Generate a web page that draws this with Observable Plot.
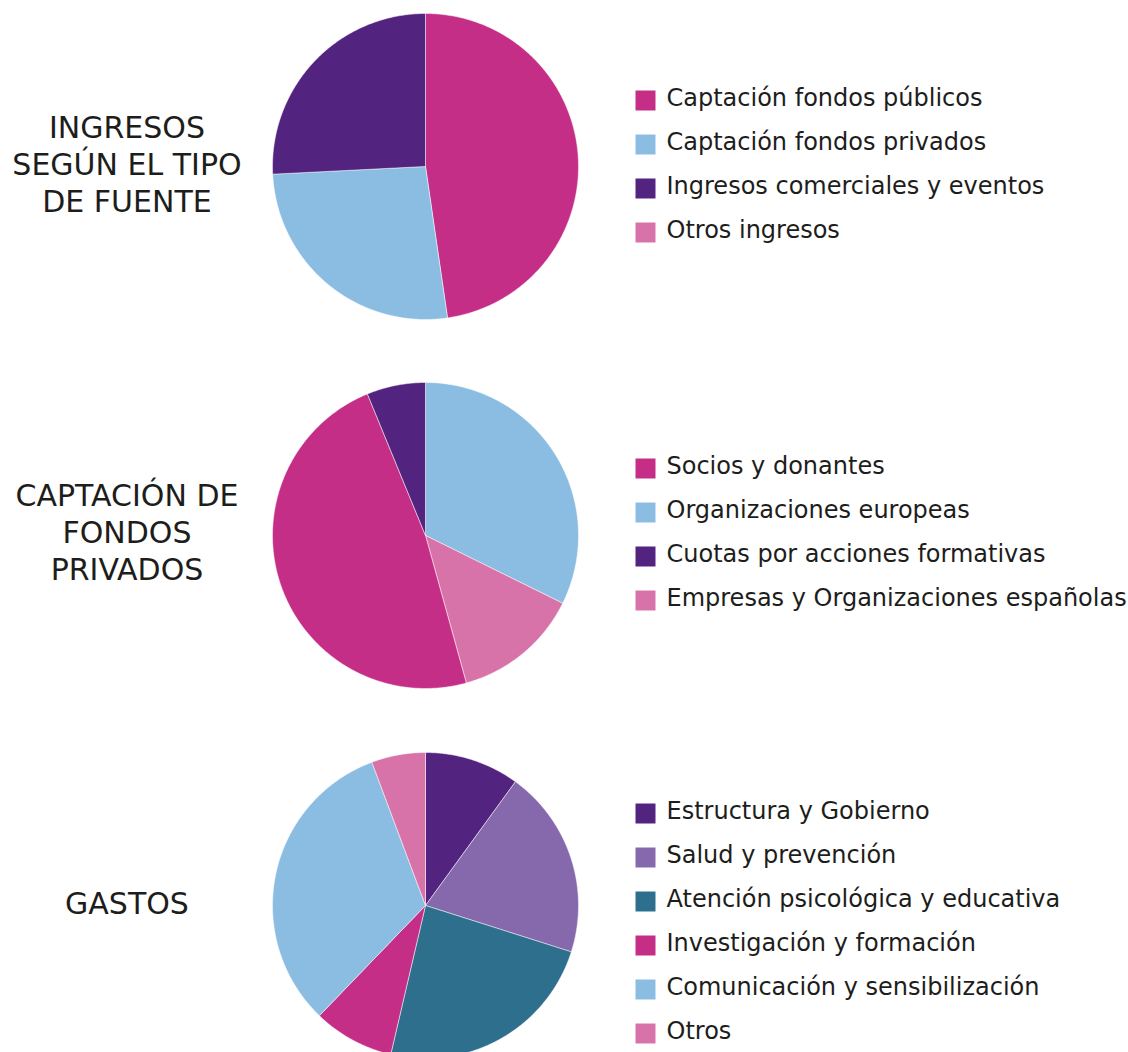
<!DOCTYPE html>
<html><head><meta charset="utf-8">
<script src="https://cdn.jsdelivr.net/npm/d3@7"></script>
<script src="https://cdn.jsdelivr.net/npm/@observablehq/plot@0.6"></script>
<style>
html,body{margin:0;padding:0;background:#fff;}
#page{position:relative;width:1128px;height:1052px;overflow:hidden;font-family:"DejaVu Sans",sans-serif;color:#1d1d1b;}
.title{position:absolute;left:0;width:254px;text-align:center;font-size:30px;line-height:37px;}
.pie,.legend{position:absolute;line-height:0;}
</style></head><body><div id="page"></div>
<script>
// ---- data ----
const ingresosTitle = ["INGRESOS", "SEGÚN EL TIPO", "DE FUENTE"];
const ingresosLabels = ["Captación fondos públicos", "Captación fondos privados", "Ingresos comerciales y eventos", "Otros ingresos"];
const ingresosValues = [47.7, 26.5, 25.8, 0];
const ingresosColors = ["#C42E87", "#8BBCE2", "#52247F", "#D873A9"];
const ingresosOrder = ["Captación fondos públicos", "Captación fondos privados", "Ingresos comerciales y eventos", "Otros ingresos"];

const privadosTitle = ["CAPTACIÓN DE", "FONDOS", "PRIVADOS"];
const privadosLabels = ["Socios y donantes", "Organizaciones europeas", "Cuotas por acciones formativas", "Empresas y Organizaciones españolas"];
const privadosValues = [48.1, 32.3, 6.2, 13.4];
const privadosColors = ["#C42E87", "#8BBCE2", "#52247F", "#D873A9"];
const privadosOrder = ["Organizaciones europeas", "Empresas y Organizaciones españolas", "Socios y donantes", "Cuotas por acciones formativas"];

const gastosTitle = ["GASTOS"];
const gastosLabels = ["Estructura y Gobierno", "Salud y prevención", "Atención psicológica y educativa", "Investigación y formación", "Comunicación y sensibilización", "Otros"];
const gastosValues = [10.0, 19.9, 23.75, 8.55, 32.1, 5.7];
const gastosColors = ["#52247F", "#8569AC", "#2E6F8E", "#C42E87", "#8BBCE2", "#D873A9"];
const gastosOrder = gastosLabels;

// ---- layout (styles) ----
const rows = [
  {title: ingresosTitle, labels: ingresosLabels, values: ingresosValues, colors: ingresosColors, order: ingresosOrder, titleTop: 109, pieTop: 1, legendTop: 77},
  {title: privadosTitle, labels: privadosLabels, values: privadosValues, colors: privadosColors, order: privadosOrder, titleTop: 477, pieTop: 370, legendTop: 445},
  {title: gastosTitle, labels: gastosLabels, values: gastosValues, colors: gastosColors, order: gastosOrder, titleTop: 885, pieTop: 740, legendTop: 789}
];
const PIE = 330, R = 153, ROW_H = 44.5;

function slicePoints(labels, values, order) {
  const total = d3.sum(values);
  const pts = [];
  let a0 = 0;
  for (const key of order) {
    const v = values[labels.indexOf(key)];
    const a1 = a0 + v / total * 2 * Math.PI;
    if (v > 0) {
      pts.push({key, x: 0, y: 0});
      const n = Math.max(2, Math.ceil((a1 - a0) / (Math.PI / 360)));
      for (let i = 0; i <= n; i++) {
        const a = a0 + (a1 - a0) * i / n;
        pts.push({key, x: Math.sin(a), y: Math.cos(a)});
      }
      pts.push({key, x: 0, y: 0});
    }
    a0 = a1;
  }
  return pts;
}

const page = document.getElementById("page");
for (const row of rows) {
  const t = document.createElement("div");
  t.className = "title";
  t.style.top = row.titleTop + "px";
  t.innerHTML = row.title.map(s => s.replace(/&/g, "&amp;")).join("<br>");
  page.appendChild(t);

  const pie = Plot.plot({
    width: PIE, height: PIE, margin: 0,
    x: {domain: [-1, 1], range: [PIE / 2 - R, PIE / 2 + R], axis: null},
    y: {domain: [-1, 1], range: [PIE / 2 + R, PIE / 2 - R], axis: null},
    color: {domain: row.labels, range: row.colors},
    marks: [
      Plot.line(slicePoints(row.labels, row.values, row.order), {x: "x", y: "y", z: "key", fill: "key", stroke: "white", strokeWidth: 0.5, curve: "linear"})
    ]
  });
  const pd = document.createElement("div");
  pd.className = "pie";
  pd.style.left = (425 - PIE / 2) + "px";
  pd.style.top = row.pieTop + "px";
  pd.appendChild(pie);
  page.appendChild(pd);

  const leg = Plot.plot({
    width: 493, height: row.labels.length * ROW_H, margin: 0, marginLeft: 10,
    x: {domain: [0, 1], axis: null},
    y: {type: "band", domain: row.labels, padding: 0, axis: null},
    color: {domain: row.labels, range: row.colors},
    marks: [
      Plot.dot(row.labels, {y: d => d, frameAnchor: "left", symbol: "square", r: 11.28, fill: d => d}),
      Plot.text(row.labels, {y: d => d, text: d => d, frameAnchor: "left", textAnchor: "start", dx: 21, dy: -2, fontSize: 24, fontFamily: "DejaVu Sans", fill: "#1d1d1b"})
    ]
  });
  const ld = document.createElement("div");
  ld.className = "legend";
  ld.style.left = "635px";
  ld.style.top = row.legendTop + "px";
  ld.appendChild(leg);
  page.appendChild(ld);
}
</script>
</body></html>
